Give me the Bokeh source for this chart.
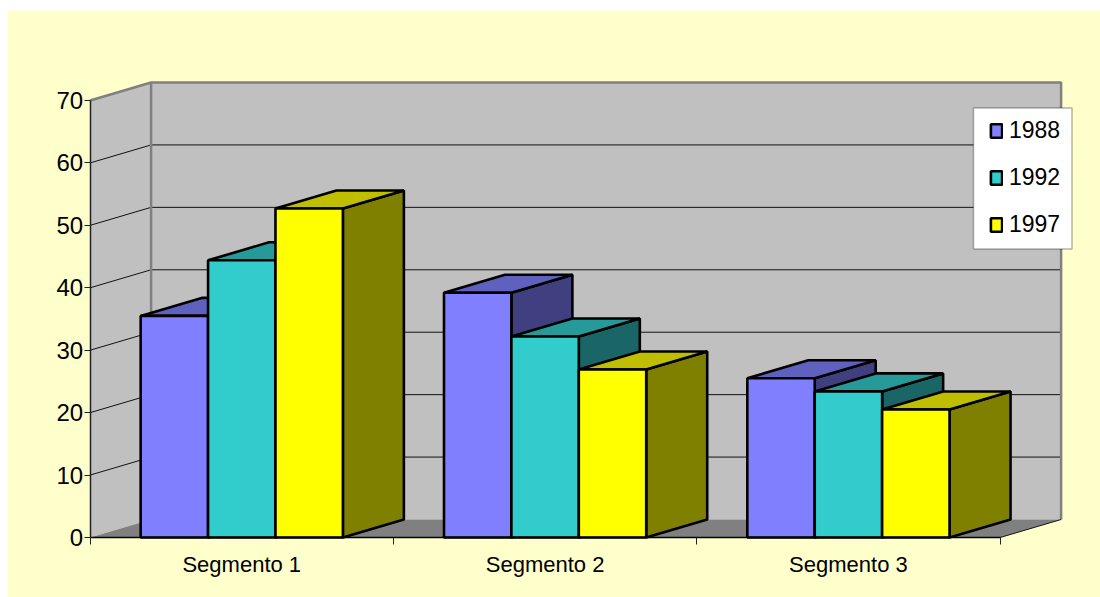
from bokeh.plotting import figure
from bokeh.models import (Range1d, FixedTicker, ColumnDataSource, Legend, LegendItem, BoxAnnotation)
from bokeh.embed import file_html
from bokeh.resources import INLINE

categories = ["Segmento 1", "Segmento 2", "Segmento 3"]
series_names = ["1988", "1992", "1997"]
values_1988 = [35.5, 39.2, 25.5]
values_1992 = [44.4, 32.2, 23.4]
values_1997 = [52.7, 26.9, 20.5]
value_ticks = [0, 10, 20, 30, 40, 50, 60, 70]
front_colors = ["#8080FF", "#33CCCC", "#FFFF00"]
top_colors = ["#6060BF", "#269999", "#BFBF00"]
side_colors = ["#404080", "#1A6666", "#808000"]

WIDTH, HEIGHT = 1100, 597
FRAME_L, FRAME_R, FRAME_T, FRAME_B = 7, 1100, 10, 597
X0, X3, Y0, Y70 = 89.6, 999.6, 537, 100
ux = (X3 - X0) / len(categories)
uy = (Y0 - Y70) / value_ticks[-1]
depth_x = 61 / ux
depth_y = 18 / uy
bar_w = 1 / 4.5
gap = bar_w * 0.75

p = figure(width=WIDTH, height=HEIGHT, output_backend="svg", toolbar_location=None,
           x_range=Range1d((FRAME_L - X0) / ux, (FRAME_R - X0) / ux),
           y_range=Range1d((Y0 - FRAME_B) / uy, (Y0 - FRAME_T) / uy),
           min_border=0, min_border_top=FRAME_T, min_border_left=FRAME_L, min_border_right=0, min_border_bottom=0,
           background_fill_color="#FFFFCC", border_fill_color="white", title=None)
p.outline_line_color = None
p.grid.visible = False

n = len(categories)
top = value_ticks[-1]
# walls
p.patch([0, depth_x, depth_x, 0], [0, depth_y, top + depth_y, top], fill_color="#C0C0C0", line_color=None)
p.patch([depth_x, n + depth_x, n + depth_x, depth_x], [depth_y, depth_y, top + depth_y, top + depth_y],
        fill_color="#C0C0C0", line_color=None)
p.patch([0, n, n + depth_x, depth_x], [0, 0, depth_y, depth_y], fill_color="#808080", line_color=None)
# gridlines
gx, gy = [], []
for t in value_ticks[1:-1]:
    gx.append([0, depth_x, n + depth_x])
    gy.append([t, t + depth_y, t + depth_y])
p.multi_line(gx, gy, line_color="#111111", line_width=1)
# wall edges
p.line([0, depth_x, n + depth_x, n + depth_x], [top, top + depth_y, top + depth_y, depth_y],
       line_color="#808080", line_width=2.5)
p.line([depth_x, depth_x], [depth_y, top + depth_y], line_color="#808080", line_width=2.5)
p.line([n, n + depth_x], [0, depth_y], line_color="#111111", line_width=1)

# bars
xs, ys, fills = [], [], []
legend_idx = []
all_series = [values_1988, values_1992, values_1997]
for c in range(n):
    for s, vals in enumerate(all_series):
        v = vals[c]
        l = c + gap + s * bar_w
        r = l + bar_w
        xs.append([r, r + depth_x, r + depth_x, r])
        ys.append([0, depth_y, v + depth_y, v])
        fills.append(side_colors[s])
        xs.append([l, l + depth_x, r + depth_x, r])
        ys.append([v, v + depth_y, v + depth_y, v])
        fills.append(top_colors[s])
        xs.append([l, r, r, l])
        ys.append([0, 0, v, v])
        fills.append(front_colors[s])
        if c == 0:
            legend_idx.append(len(xs) - 1)
src = ColumnDataSource(dict(xs=xs, ys=ys, fill=fills))
bars = p.patches("xs", "ys", source=src, fill_color="fill", line_color="black", line_width=2.6)

# axes
xa = p.xaxis[0]
xa.fixed_location = 0
xa.bounds = (0, n)
centers = [i + 0.5 for i in range(n)]
xa.ticker = FixedTicker(ticks=centers, minor_ticks=list(range(n + 1)))
xa.major_label_overrides = {c: name for c, name in zip(centers, categories)}
xa.major_tick_line_color = None
xa.major_tick_out = 0
xa.major_tick_in = 0
xa.minor_tick_out = 7
xa.minor_tick_in = 0
xa.minor_tick_line_color = "#222222"
xa.minor_tick_line_width = 1
xa.axis_line_color = "black"
xa.axis_line_width = 1.5
xa.major_label_standoff = 7
xa.major_label_text_font = "Liberation Sans"
xa.major_label_text_font_size = "22px"
xa.major_label_text_color = "black"

ya = p.yaxis[0]
ya.fixed_location = 0
ya.bounds = (0, top)
ya.ticker = FixedTicker(ticks=value_ticks)
ya.minor_tick_line_color = None
ya.major_tick_out = 6
ya.major_tick_in = 0
ya.major_tick_line_color = "#222222"
ya.major_tick_line_width = 1
ya.axis_line_color = "#222222"
ya.axis_line_width = 1.5
ya.major_label_standoff = 1
ya.major_label_text_font = "Liberation Sans"
ya.major_label_text_font_size = "24px"
ya.major_label_text_color = "black"

# legend: box behind a transparent legend
box = BoxAnnotation(left=973, right=1071.5, top=107.5, bottom=248.5,
                    left_units="canvas", right_units="canvas", top_units="canvas", bottom_units="canvas",
                    fill_color="white", fill_alpha=1, line_color="black", line_width=1.5, level="annotation")
p.add_layout(box)
items = [LegendItem(label=name, renderers=[bars], index=i) for name, i in zip(series_names, legend_idx)]
legend = Legend(items=items, location=(982, 359), orientation="vertical",
                glyph_width=14, glyph_height=17, label_standoff=6,
                spacing=20, padding=11, margin=0,
                label_text_font="Liberation Sans", label_text_font_size="23px", label_text_color="black",
                border_line_color=None, background_fill_alpha=0)
p.add_layout(legend, "center")

open("out.html", "w").write(file_html(p, INLINE))
